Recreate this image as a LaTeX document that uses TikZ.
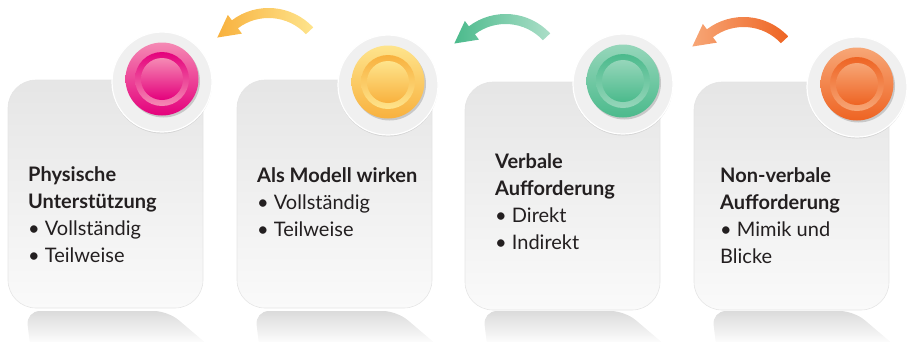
\documentclass[tikz,border=0pt]{standalone}
\usepackage{fontspec}
\setmainfont{Lato}
\usetikzlibrary{calc,shadows}

\definecolor{pinkA}{HTML}{F58AB4}
\definecolor{pinkB}{HTML}{E4007C}
\definecolor{yellowA}{HTML}{FEE48C}
\definecolor{yellowB}{HTML}{F8B13E}
\definecolor{greenA}{HTML}{96D6BA}
\definecolor{greenB}{HTML}{4BBA8C}
\definecolor{orangeA}{HTML}{F7A676}
\definecolor{orangeB}{HTML}{EE6423}
\definecolor{inktext}{HTML}{231F20}

% bent arrow: centre x, centre y, head colour, tail colour
\newcommand{\bentarrow}[4]{%
  \shade[left color=#3,right color=#4]
    ($(#1,#2)+(43:61pt)$) arc (43:127:61pt)
    -- ($(#1,#2)+(127:67.7pt)$) -- ($(#1,#2)+(127:56pt)+(217:22pt)$)
    -- ($(#1,#2)+(127:44.3pt)$) -- ($(#1,#2)+(127:51pt)$)
    arc (127:43:51pt) -- cycle;}

% mirror image under a card, from its left edge
\newcommand{\cardmirror}[1]{%
  \shade[top color=gray!28,bottom color=white,rounded corners=14pt]
    (#1+22,-345) -- (#1+18,-311) -- (#1+160,-311) [sharp corners] -- (#1+200,-345) -- cycle;}

\begin{document}
\begin{tikzpicture}[x=1pt,y=1pt,
    card/.style={rectangle,rounded corners=28pt,minimum width=195pt,minimum height=228pt,
                 top color=gray!20,bottom color=gray!4,draw=gray!20,line width=0.6pt},
    halo/.style={circle,minimum size=100pt,fill=gray!12,draw=white,line width=1.2pt,
                 drop shadow={shadow xshift=0pt,shadow yshift=-1.5pt,opacity=0.2}},
    disk/.style 2 args={circle,minimum size=73pt,top color=#1,bottom color=#2,
                 drop shadow={shadow xshift=1.5pt,shadow yshift=-2pt,opacity=0.35}},
    ring/.style 2 args={circle,minimum size=54pt,top color=#2,bottom color=#1},
    core/.style 2 args={circle,minimum size=42pt,top color=#1,bottom color=#2},
    cardtext/.style={align=left,anchor=north west,inner sep=0pt,text=inktext,
                 font=\fontsize{20}{27}\selectfont}
  ]
  \useasboundingbox (0,0) rectangle (907,-341);

  % mirrors
  \cardmirror{8}
  \cardmirror{237}
  \cardmirror{465}
  \cardmirror{694}

  % cards
  \node[card] (c1) at (105.5,-194) {};
  \node[card] (c2) at (334.5,-194) {};
  \node[card] (c3) at (562.5,-196) {};
  \node[card] (c4) at (791.5,-196) {};

  % badges
  \node[halo] (h1) at (162,-82) {};
  \node[disk={pinkA}{pinkB}] (d1) at (162,-79) {};
  \node[ring={pinkA}{pinkB}] (r1) at (d1) {};
  \node[core={pinkA}{pinkB}] (k1) at (d1) {};

  \node[halo] (h2) at (388,-85) {};
  \node[disk={yellowA}{yellowB}] (d2) at (388,-82) {};
  \node[ring={yellowA}{yellowB}] (r2) at (d2) {};
  \node[core={yellowA}{yellowB}] (k2) at (d2) {};

  \node[halo] (h3) at (623,-84) {};
  \node[disk={greenA}{greenB}] (d3) at (623,-81) {};
  \node[ring={greenA}{greenB}] (r3) at (d3) {};
  \node[core={greenA}{greenB}] (k3) at (d3) {};

  \node[halo] (h4) at (857,-87) {};
  \node[disk={orangeA}{orangeB}] (d4) at (857,-84) {};
  \node[ring={orangeA}{orangeB}] (r4) at (d4) {};
  \node[core={orangeA}{orangeB}] (k4) at (d4) {};

  % arrows
  \bentarrow{268.6}{-69}{yellowB}{yellowA}
  \bentarrow{505.6}{-75}{greenB}{greenA!80}
  \bentarrow{743.6}{-78}{orangeA}{orangeB}

  % texts
  \node[cardtext] (t1) at (28,-166.5)
    {\textbf{Physische}\\\textbf{Unterstützung}\\• Vollständig\\• Teilweise};
  \node[cardtext] (t2) at (257,-167.5)
    {\textbf{Als Modell wirken}\\• Vollständig\\• Teilweise};
  \node[cardtext] (t3) at (495,-153.5)
    {\textbf{Verbale}\\\textbf{Aufforderung}\\• Direkt\\• Indirekt};
  \node[cardtext] (t4) at (720,-167.5)
    {\textbf{Non-verbale}\\\textbf{Aufforderung}\\• Mimik und\\Blicke};
\end{tikzpicture}
\end{document}
